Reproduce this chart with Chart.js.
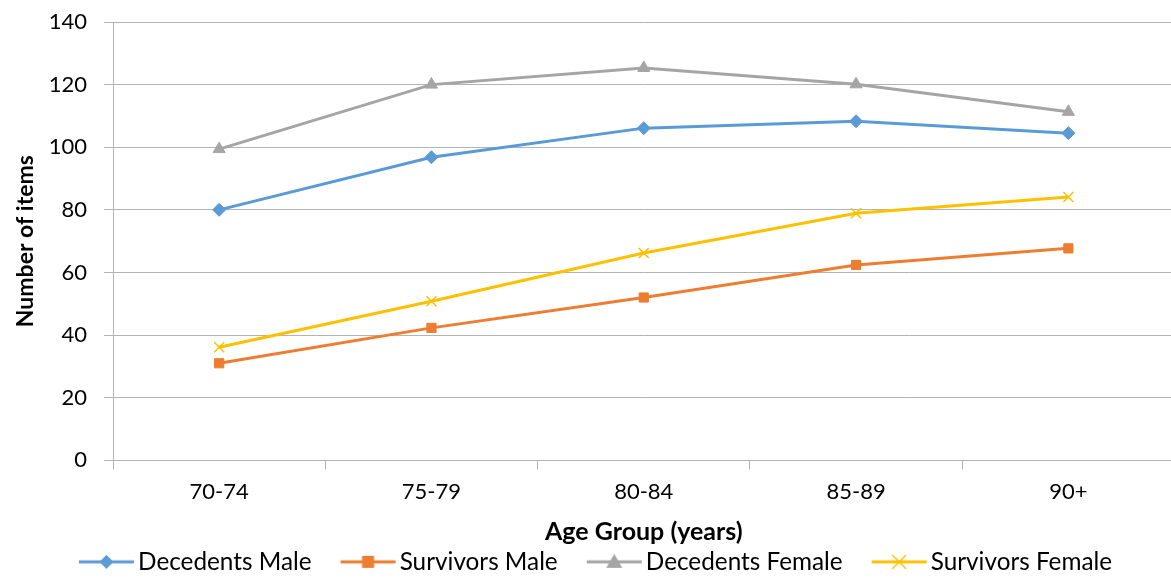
<!DOCTYPE html>
<html>
<head>
<meta charset="utf-8">
<script src="https://cdn.jsdelivr.net/npm/chart.js"></script>
<style>
  html, body { margin: 0; padding: 0; background: #fff; overflow: hidden; }
  #wrap { width: 1171px; height: 578px; overflow: hidden; }
</style>
</head>
<body>
<div id="wrap"><canvas id="chart" width="1183" height="578"></canvas></div>
<script>
// --------------------------
// Data
// --------------------------
const ageGroups = ['70-74', '75-79', '80-84', '85-89', '90+'];
const decedentsMale = [80, 96.8, 106.1, 108.3, 104.5];
const survivorsMale = [31, 42.3, 52, 62.4, 67.7];
const decedentsFemale = [99.4, 120, 125.3, 120.1, 111.3];
const survivorsFemale = [36.1, 50.8, 66.2, 78.9, 84.1];

const FONT = 'Lato, "Open Sans", sans-serif';

// legend symbol: line with marker in the middle. The canvas is wider than
// the legend box so the line reaches close to the text like in Excel.
const SYM_W = 73;   // box width Chart.js reserves
const SYM_K = 9;    // extra on each side
function legendSymbol(color, style) {
  const c = document.createElement('canvas');
  c.width = SYM_W + 2 * SYM_K; c.height = 18;
  const g = c.getContext('2d');
  const x1 = c.width - 56, x2 = c.width - 1, cy = 9, cx = (x1 + x2) / 2;
  g.strokeStyle = color; g.lineWidth = 3;
  g.beginPath(); g.moveTo(x1, cy); g.lineTo(x2, cy); g.stroke();
  g.fillStyle = color;
  g.beginPath();
  if (style === 'rectRot') {
    g.moveTo(cx, cy - 7); g.lineTo(cx + 7, cy); g.lineTo(cx, cy + 7); g.lineTo(cx - 7, cy); g.closePath(); g.fill();
  } else if (style === 'rect') {
    g.fillRect(cx - 6, cy - 6, 12, 12);
  } else if (style === 'triangle') {
    g.moveTo(cx, cy - 8); g.lineTo(cx + 8, cy + 6); g.lineTo(cx - 8, cy + 6); g.closePath(); g.fill();
  } else {
    g.lineWidth = 1.5;
    g.moveTo(cx - 7, cy - 7); g.lineTo(cx + 7, cy + 7);
    g.moveTo(cx + 7, cy - 7); g.lineTo(cx - 7, cy + 7); g.stroke();
  }
  return c;
}

const series = [
  { label: 'Decedents Male', data: decedentsMale, color: '#5b9bd5', style: 'rectRot', radius: 6.5 },
  { label: 'Survivors Male', data: survivorsMale, color: '#ed7d31', style: 'rect', radius: 6.5 },
  { label: 'Decedents Female', data: decedentsFemale, color: '#a5a5a5', style: 'triangle', radius: 7 },
  { label: 'Survivors Female', data: survivorsFemale, color: '#ffc000', style: 'crossRot', radius: 7 }
];

const datasets = series.map(s => ({
  label: s.label,
  data: s.data,
  borderColor: s.color,
  backgroundColor: s.color,
  borderWidth: 3,
  pointStyle: s.style,
  pointRadius: s.radius,
  pointBorderWidth: s.style === 'crossRot' ? 1.5 : 1,
  pointBackgroundColor: s.color,
  pointBorderColor: s.color,
  tension: 0,
  fill: false
}));

// canvas is a bit wider than the window; keep the legend centred on the window
const legendShift = {
  id: 'legendShift',
  afterLayout(chart) {
    const lg = chart.legend;
    if (lg) { lg.left -= 4; lg.right -= 4; }
  }
};

new Chart(document.getElementById('chart'), {
  type: 'line',
  data: { labels: ageGroups, datasets: datasets },
  plugins: [legendShift],
  options: {
    responsive: false,
    animation: false,
    layout: { padding: { top: 22, right: 0, left: -10, bottom: -6 } },
    plugins: {
      tooltip: { enabled: false },
      legend: {
        position: 'bottom',
        labels: {
          usePointStyle: true,
          pointStyleWidth: SYM_W,
          padding: 3,
          color: '#000',
          font: { family: FONT, size: 24.3 },
          generateLabels: () => series.map((s, i) => ({
            text: s.label,
            pointStyle: legendSymbol(s.color, s.style),
            fillStyle: s.color,
            strokeStyle: s.color,
            lineWidth: 0,
            hidden: false,
            datasetIndex: i
          }))
        }
      }
    },
    scales: {
      x: {
        offset: true,
        afterFit: (s) => { s.paddingLeft = 0; s.paddingRight = 0; },
        grid: { offset: true, drawOnChartArea: false, drawTicks: true, tickLength: 9, color: '#b3b3b3' },
        border: { color: '#b3b3b3' },
        ticks: { color: '#000', font: { family: FONT, size: 22 }, padding: 9 },
        title: { display: true, text: 'Age Group (years)', color: '#000', font: { family: FONT, size: 25, weight: 'bold' }, padding: { top: 3, bottom: 0 } }
      },
      y: {
        min: 0,
        max: 140,
        afterFit: (s) => { s.width = 123; s.paddingTop = 0; s.paddingBottom = 0; },
        ticks: { stepSize: 20, color: '#000', font: { family: FONT, size: 22 }, padding: 17 },
        grid: { color: '#b3b3b3', tickLength: 9 },
        border: { color: '#b3b3b3' },
        title: { display: true, text: 'Number of items', color: '#000', font: { family: FONT, size: 23, weight: 'bold' }, padding: { top: 22, bottom: 8 } }
      }
    }
  }
});
</script>
</body>
</html>
